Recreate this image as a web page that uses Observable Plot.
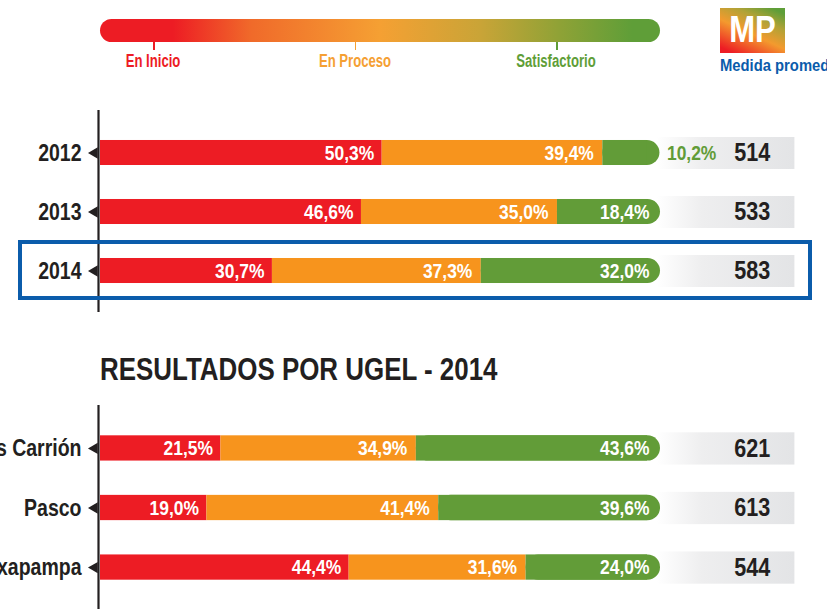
<!DOCTYPE html>
<html>
<head>
<meta charset="utf-8">
<script src="https://cdn.jsdelivr.net/npm/d3@7"></script>
<script src="https://cdn.jsdelivr.net/npm/@observablehq/plot@0.6"></script>
<style>
  body { margin: 0; background: #fff; }
  #wrap { position: relative; width: 827px; height: 613px; overflow: hidden; background: #fff;
    font-family: "Liberation Sans", Arial, sans-serif; font-weight: bold; }
  .abs { position: absolute; }
  #legendBar { left: 100px; top: 19px; width: 560px; height: 23px; border-radius: 12px;
    background: linear-gradient(to right, #ed1c24 0%, #ed1c24 13%, #f06a2a 27%, #f5a033 50%, #c9a437 68%, #8fa236 82%, #5f9e38 95%); }
  .legTick { top: 42px; width: 1.5px; height: 8px; }
  .legLab { top: 53px; font-size: 17.5px; line-height: 1; white-space: nowrap; transform: translateX(-50%) scaleX(0.75); }
  #mpBox { left: 720px; top: 8px; width: 65px; height: 45px;
    background: linear-gradient(25deg, #ed1c24 8%, #f39a2e 45%, #b1a236 70%, #5e9e38 92%); }
  #mpText { left: 720px; top: 8px; width: 65px; color: #fff; font-size: 37px; line-height: 43px; text-align: center; transform: scaleX(0.84); }
  #mpTitle { left: 720px; top: 57px; font-size: 17px; line-height: 1; color: #0b5cab; white-space: nowrap; transform: scaleX(0.87); transform-origin: 0 0; }
  #title { left: 100px; top: 353px; font-size: 32px; line-height: 1; color: #231f20; white-space: nowrap; transform: scaleX(0.81); transform-origin: 0 0; }
  #highlight { left: 18px; top: 240px; width: 794px; height: 60px; border: 4px solid #0b5cab; box-sizing: border-box; z-index: 5; }
  .plot { position: absolute; left: 0; }
</style>
</head>
<body>
<svg width="0" height="0" style="position:absolute">
  <defs>
    <linearGradient id="mpGrad" x1="0" x2="1" y1="0" y2="0">
      <stop offset="0" stop-color="#ffffff"/>
      <stop offset="0.18" stop-color="#ffffff"/>
      <stop offset="0.45" stop-color="#eeeeef"/>
      <stop offset="1" stop-color="#e3e4e6"/>
    </linearGradient>
  </defs>
</svg>
<div id="wrap"></div>
<script>
// ---- data ----
const levels = ["En Inicio", "En Proceso", "Satisfactorio"];
const levelColors = ["#ed1c24", "#f7941d", "#629c38"];
const legendTextColors = ["#ed1c24", "#f5a033", "#5f9e38"];

const years = ["2012", "2013", "2014"];
const yearInicio = [50.3, 46.6, 30.7];
const yearProceso = [39.4, 35.0, 37.3];
const yearSatisf = [10.2, 18.4, 32.0];
const yearMP = [514, 533, 583];
const highlightYear = "2014";

const ugels = ["Daniel Alcides Carrión", "Pasco", "Oxapampa"];
const ugelInicio = [21.5, 19.0, 44.4];
const ugelProceso = [34.9, 41.4, 31.6];
const ugelSatisf = [43.6, 39.6, 24.0];
const ugelMP = [621, 613, 544];

const mpLogo = "MP";
const mpTitle = "Medida promedio";
const sectionTitle = "RESULTADOS POR UGEL - 2014";

// ---- page furniture ----
const wrap = document.getElementById("wrap");
function el(tag, id, cls, text, style) {
  const e = document.createElement(tag);
  if (id) e.id = id;
  e.className = "abs " + (cls || "");
  if (text != null) e.textContent = text;
  if (style) Object.assign(e.style, style);
  wrap.appendChild(e);
  return e;
}
el("div", "legendBar");
const legX = d3.scaleLinear().domain([0, 2]).range([153, 556]);
levels.forEach((l, i) => {
  el("div", null, "legTick", null, { left: legX(i) + "px", background: legendTextColors[i] });
  el("div", null, "legLab", l, { left: legX(i) + "px", color: legendTextColors[i] });
});
el("div", "mpBox");
el("div", "mpText", null, mpLogo);
el("div", "mpTitle", null, mpTitle);
el("div", "title", null, sectionTitle);
el("div", "highlight");

// ---- charts ----
const fmt = v => d3.format(".1f")(v).replace(".", ",") + "%";
const font = `"Liberation Sans", Arial, sans-serif`;
const MP_X1 = 100, MP_X2 = 124, MP_TEXT_X = 116.4;
const CONDENSE = 0.83;

function panel(cats, a, b, c, mp, top, marginTop, height) {
  const rows = cats.map((cat, i) => ({
    cat, v: [a[i], b[i], c[i]],
    s: [0, a[i], a[i] + b[i], a[i] + b[i] + c[i]], mp: mp[i]
  }));
  const lab = { fontSize: 21, fontWeight: "bold" };
  const marks = [
    Plot.barX(rows, { y: "cat", x1: MP_X1 - 6, x2: MP_X2, fill: "url(#mpGrad)", insetTop: -3, insetBottom: -4 }),
    Plot.barX(rows, { y: "cat", x1: d => d.s[0], x2: d => d.s[1], fill: levelColors[0] }),
    Plot.barX(rows, { y: "cat", x1: d => d.s[1], x2: d => d.s[2], fill: levelColors[1] }),
    Plot.barX(rows, { y: "cat", x1: d => d.s[2], x2: d => d.s[3], fill: levelColors[2], rx: 12.5 }),
    Plot.barX(rows, { y: "cat", x1: d => d.s[2], x2: d => d.s[3], fill: levelColors[2], insetRight: 13 }),
    Plot.text(rows, { y: "cat", x: d => d.s[1], text: d => fmt(d.v[0]), textAnchor: "end", dx: -8, fill: "white", ...lab }),
    Plot.text(rows, { y: "cat", x: d => d.s[2], text: d => fmt(d.v[1]), textAnchor: "end", dx: -9, fill: "white", ...lab }),
    Plot.text(rows.filter(d => d.v[2] >= 15), { y: "cat", x: d => d.s[3], text: d => fmt(d.v[2]), textAnchor: "end", dx: -11, fill: "white", ...lab }),
    Plot.text(rows.filter(d => d.v[2] < 15), { y: "cat", x: d => d.s[3], text: d => fmt(d.v[2]), textAnchor: "start", dx: 7, fill: levelColors[2], ...lab }),
    Plot.text(rows, { y: "cat", x: MP_TEXT_X, text: d => String(d.mp), fill: "#231f20", fontSize: 26, fontWeight: "bold" }),
    Plot.text(rows, { y: "cat", x: 0, text: "cat", textAnchor: "end", dx: -19, fill: "#231f20", fontSize: 23.5, fontWeight: "bold" }),
    Plot.dot(rows, { y: "cat", x: 0, symbol: "triangle", r: 4.2, rotate: -90, fill: "#231f20", stroke: null, dx: -6 }),
    Plot.ruleX([0], { stroke: "#231f20", strokeWidth: 2.2, dx: -2, insetTop: 4, insetBottom: 5 })
  ];
  const p = Plot.plot({
    width: 827, height, marginLeft: 100, marginRight: 167, marginTop, marginBottom: 0,
    x: { domain: [0, 100], axis: null },
    y: { domain: cats, padding: 0.576, round: false, axis: null },
    style: { fontFamily: font, fontWeight: "bold", background: "none", overflow: "visible" },
    marks
  });
  // condense the text horizontally around each anchor (narrow display face)
  p.querySelectorAll("text").forEach(t => {
    const tr = t.getAttribute("transform");
    if (tr) t.setAttribute("transform", tr + ` scale(${CONDENSE},1)`);
  });
  p.classList.add("plot");
  p.style.top = top + "px";
  p.style.maxWidth = "none";
  wrap.appendChild(p);
}

panel(years, yearInicio, yearProceso, yearSatisf, yearMP, 100, 6, 217);
panel(ugels, ugelInicio, ugelProceso, ugelSatisf, ugelMP, 400, 1, 214);
</script>
</body>
</html>
